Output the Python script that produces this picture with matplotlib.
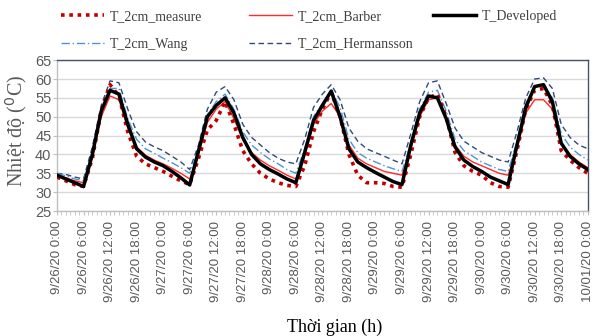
import matplotlib
matplotlib.use("Agg")
import matplotlib.pyplot as plt
from matplotlib.ticker import MultipleLocator
import numpy as np

hours = list(range(0, 121, 2))

t_measure = [34.0, 33.0, 32.0, 31.5, 39.0, 51.5, 58.5, 55.5, 46.0, 39.5, 37.5, 36.5,
             35.5, 34.2, 33.0, 32.0, 39.0, 46.5, 49.0, 54.0, 48.0, 41.0, 37.5, 35.0,
             33.5, 32.5, 31.8, 31.5, 37.0, 46.0, 52.0, 56.5, 50.0, 40.0, 34.5, 32.5,
             32.5, 32.3, 31.5, 31.3, 40.0, 50.0, 55.0, 56.0, 50.0, 40.5, 37.0, 35.5,
             34.5, 32.5, 31.5, 31.3, 41.0, 52.0, 57.0, 57.5, 53.0, 41.0, 38.5, 36.5,
             35.0]
t_barber = [34.5, 33.8, 33.0, 32.5, 39.5, 50.0, 55.5, 54.5, 47.0, 42.0, 39.8, 38.5,
            37.5, 36.3, 35.0, 33.5, 40.0, 48.5, 52.0, 54.0, 49.5, 44.0, 40.5, 38.5,
            37.0, 35.8, 34.5, 33.5, 40.0, 48.0, 51.5, 53.5, 50.0, 42.5, 39.0, 37.5,
            36.5, 35.5, 35.0, 34.5, 41.5, 50.0, 54.5, 55.0, 50.0, 42.5, 39.5, 38.0,
            37.0, 36.0, 35.0, 34.5, 41.5, 51.0, 54.5, 54.5, 52.0, 43.0, 40.0, 38.0,
            36.5]
t_developed = [34.5, 33.5, 32.5, 31.5, 40.0, 51.5, 57.0, 56.0, 48.0, 41.5, 39.3, 38.0,
               37.0, 35.5, 33.8, 31.9, 41.0, 50.0, 53.0, 55.0, 51.0, 44.5, 40.0, 37.5,
               36.0, 34.8, 33.5, 32.5, 40.5, 49.0, 53.0, 56.8, 50.0, 41.5, 38.0, 36.5,
               35.2, 34.0, 32.8, 32.0, 42.5, 51.0, 55.5, 55.0, 49.5, 42.0, 38.5, 36.8,
               35.5, 34.0, 33.0, 32.0, 42.5, 52.5, 58.0, 58.5, 54.0, 43.0, 39.5, 37.5,
               36.0]
t_wang = [35.0, 34.3, 33.5, 33.0, 40.5, 51.5, 57.5, 57.5, 49.5, 44.0, 41.5, 40.3,
          39.0, 37.8, 36.5, 35.0, 41.0, 50.5, 54.0, 56.0, 52.0, 46.0, 42.5, 40.5,
          38.8, 37.5, 36.0, 35.0, 41.5, 50.0, 53.5, 57.0, 52.5, 44.0, 40.5, 39.0,
          38.0, 37.0, 36.2, 35.5, 43.0, 52.0, 56.5, 57.0, 51.5, 44.0, 41.0, 39.5,
          38.0, 37.0, 36.0, 35.5, 43.5, 53.5, 58.0, 58.5, 55.0, 45.5, 42.0, 40.0,
          38.5]
t_hermansson = [35.0, 34.7, 34.0, 33.5, 42.0, 53.0, 59.5, 59.0, 52.0, 46.0, 43.3, 42.0,
                41.0, 39.5, 38.0, 36.0, 42.5, 52.0, 56.5, 58.0, 54.5, 48.0, 44.5, 42.5,
                40.5, 39.0, 38.0, 37.5, 44.0, 52.5, 56.0, 58.5, 54.5, 47.0, 43.5, 41.5,
                40.5, 39.5, 38.5, 37.5, 45.5, 54.0, 59.0, 59.5, 53.5, 47.0, 43.5, 42.0,
                40.5, 39.5, 38.5, 38.0, 46.0, 55.0, 60.0, 60.3, 57.5, 48.0, 44.5, 42.5,
                41.5]

tick_labels = ["9/26/20 0:00", "9/26/20 6:00", "9/26/20 12:00", "9/26/20 18:00",
               "9/27/20 0:00", "9/27/20 6:00", "9/27/20 12:00", "9/27/20 18:00",
               "9/28/20 0:00", "9/28/20 6:00", "9/28/20 12:00", "9/28/20 18:00",
               "9/29/20 0:00", "9/29/20 6:00", "9/29/20 12:00", "9/29/20 18:00",
               "9/30/20 0:00", "9/30/20 6:00", "9/30/20 12:00", "9/30/20 18:00",
               "10/01/20 0:00"]
tick_hours = list(range(0, 121, 6))

W, H = 595, 336
fig = plt.figure(figsize=(W / 100, H / 100), dpi=100)
ax = fig.add_axes([0.0958, 0.372, 0.892, 0.449])

serif = ["Liberation Serif", "DejaVu Serif"]
sans = ["Liberation Sans", "DejaVu Sans"]

ax.plot(hours, t_hermansson, color="#2F4A7A", lw=1.0, ls=(0, (4, 2.5)), label="T_2cm_Hermansson", zorder=2)
ax.plot(hours, t_wang, color="#4F94D4", lw=1.0, ls=(0, (6, 2, 1, 2)), label="T_2cm_Wang", zorder=3)
ax.plot(hours, t_barber, color="#FF2A2A", lw=1.0, label="T_2cm_Barber", zorder=4)
ax.plot(hours, t_measure, color="#C00000", lw=2.6, ls=(0, (1, 1.3)), label="T_2cm_measure", zorder=5)
ax.plot(hours, t_developed, color="black", lw=2.5, label="T_Developed", zorder=6)

ax.set_xlim(0, 120)
ax.set_ylim(25, 65)
ax.yaxis.set_major_locator(MultipleLocator(5))
ax.grid(axis="y", color="#D9D9D9", lw=1.0)
ax.set_axisbelow(True)

ax.set_xticks(tick_hours)
ax.set_xticklabels(tick_labels, rotation=90, family=sans, fontsize=9.5, color="#595959")
ax.xaxis.set_minor_locator(MultipleLocator(1))
ax.tick_params(axis="x", which="both", direction="out", length=3, color="#BFBFBF", pad=4)
ax.tick_params(axis="y", which="both", direction="out", length=3, color="#BFBFBF", pad=1)
for lab in ax.get_yticklabels():
    lab.set_family(sans)
    lab.set_fontsize(10.5)
    lab.set_color("#595959")

for s in ["left", "bottom"]:
    ax.spines[s].set_color("#BFBFBF")
    ax.spines[s].set_linewidth(1.0)
for s in ["top", "right"]:
    ax.spines[s].set_color("#44546A")
    ax.spines[s].set_linewidth(1.0)

fig.text(0.027, 0.61, "Nhiệt độ ($^0$C)", rotation=90, ha="center", va="center",
         family=serif, fontsize=14.5, color="#595959")
fig.text(0.563, 0.027, "Thời gian (h)", ha="center", va="center",
         family=serif, fontsize=13, color="black")

handles, labels = ax.get_legend_handles_labels()
hmap = dict(zip(labels, handles))
columns = [(61, ["T_2cm_measure", "T_2cm_Wang"]),
           (249, ["T_2cm_Barber", "T_2cm_Hermansson"]),
           (433, ["T_Developed"])]
for xpix, keys in columns:
    leg = fig.legend([hmap[k] for k in keys], keys, loc="upper left",
                     bbox_to_anchor=(xpix / W, 1 - 10 / H), frameon=False,
                     borderpad=0, borderaxespad=0,
                     prop={"family": serif, "size": 10}, handlelength=3.1,
                     handletextpad=0.45, labelspacing=1.05)
    for t in leg.get_texts():
        t.set_color("#404040")

fig.savefig("out.png", dpi=100)
